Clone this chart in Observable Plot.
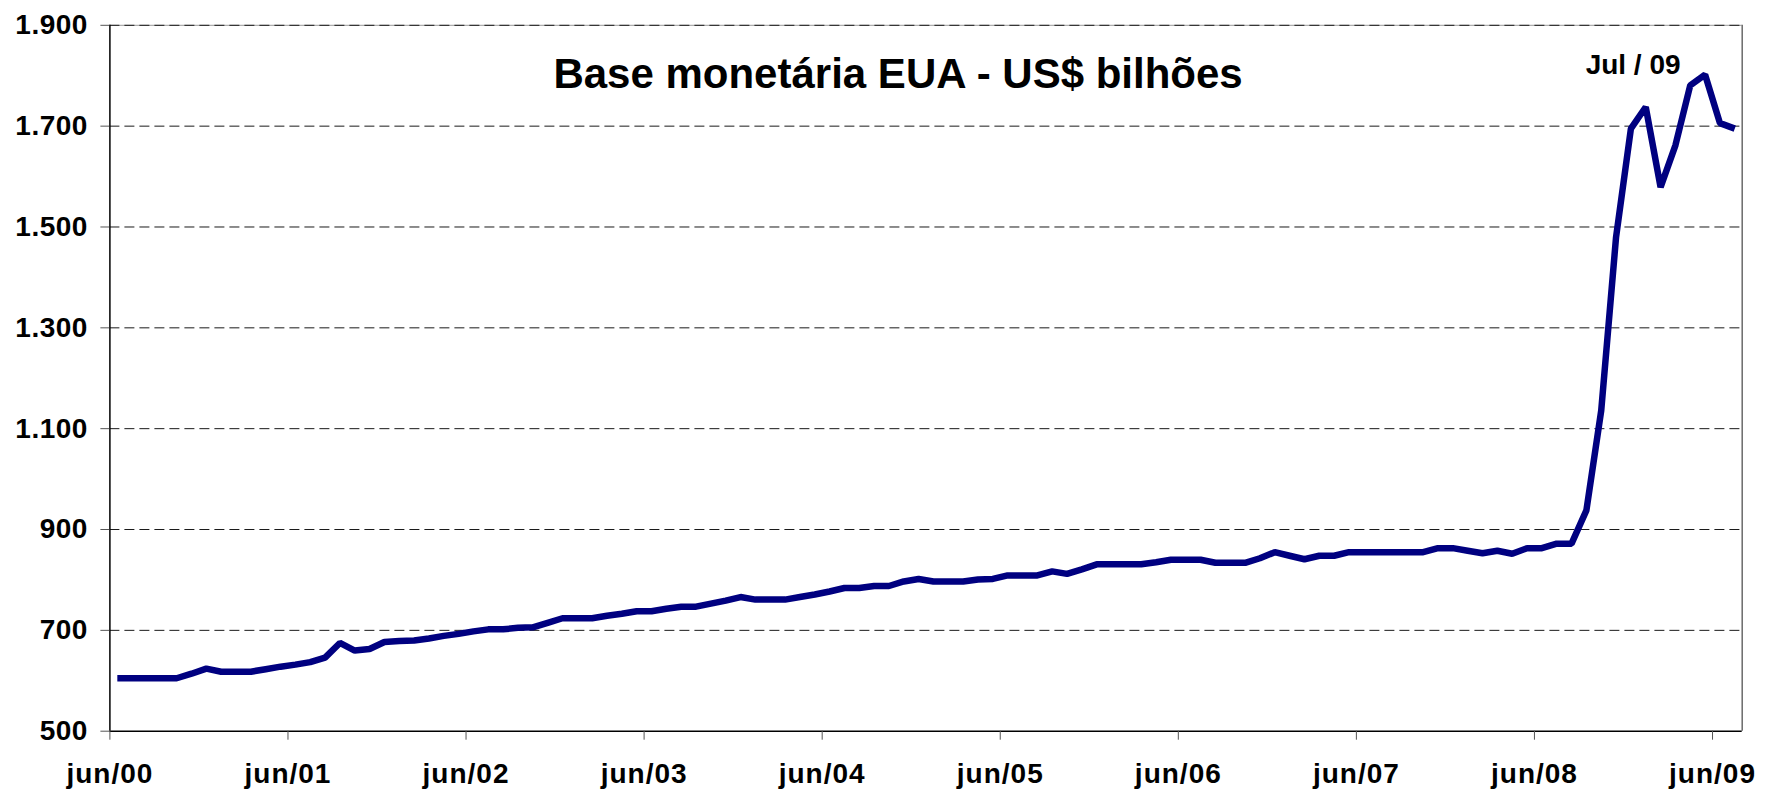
<!DOCTYPE html>
<html>
<head>
<meta charset="utf-8">
<script src="https://cdn.jsdelivr.net/npm/d3@7"></script>
<script src="https://cdn.jsdelivr.net/npm/@observablehq/plot@0.6"></script>
<style>
  html, body { margin: 0; padding: 0; background: #ffffff; }
  #chart svg { display: block; }
  g[aria-label="y-axis tick label"] text { letter-spacing: 0.5px; }
  g[aria-label="x-axis tick label"] text { letter-spacing: 1px; }
  g[aria-label="peak label"] text { letter-spacing: 0.6px; }
</style>
</head>
<body>
<div id="chart"></div>
<script>
// ---- data ----
const title = "Base monetária EUA - US$ bilhões";
const peakLabel = "Jul / 09";
const peakIndex = 107;

// x-axis labels, one every 12 months
const tickLabels = ["jun/00", "jun/01", "jun/02", "jun/03", "jun/04", "jun/05", "jun/06", "jun/07", "jun/08", "jun/09"];

// y-axis ticks
const yTicks = [500, 700, 900, 1100, 1300, 1500, 1700, 1900];

// monthly values, US$ billions
const values = [
  605, 605, 605, 605, 605, 614, 624, 618, 618, 618,
  623, 628, 632, 637, 646, 675, 660, 663, 677, 679,
  680, 684, 689, 693, 698, 702, 702, 705, 706, 715,
  724, 724, 724, 729, 733, 738, 738, 743, 747, 747,
  753, 759, 766, 761, 761, 761, 766, 771, 777, 784,
  784, 788, 788, 797, 802, 797, 797, 797, 801, 802,
  809, 809, 809, 817, 812, 821, 831, 831, 831, 831,
  835, 840, 840, 840, 834, 834, 834, 843, 855, 848,
  841, 848, 848, 855, 855, 855, 855, 855, 855, 863,
  863, 858, 853, 858, 852, 863, 863, 872, 872, 938,
  1136, 1480, 1695, 1738, 1579, 1662, 1781, 1802, 1706, 1695
];

// ---- build ----
const data = values.map((v, i) => ({i, v}));
const xDomain = [-0.5, values.length - 0.5];
const xTicks = tickLabels.map((_, k) => k * 12 - 0.5);
const fmtY = d => d3.format(",")(d).replace(/,/g, ".");

const chart = Plot.plot({
  width: 1768,
  height: 792,
  marginLeft: 109.4,
  marginRight: 26.3,
  marginTop: 24.8,
  marginBottom: 61.3,
  style: {
    fontFamily: "'Liberation Sans', Arial, Helvetica, sans-serif",
    fontWeight: "bold",
    background: "#ffffff",
    color: "#000000",
    overflow: "visible"
  },
  x: {domain: xDomain},
  y: {domain: [yTicks[0], yTicks[yTicks.length - 1]]},
  marks: [
    Plot.ruleY([yTicks[yTicks.length - 1]], {stroke: "#9a9a9a", strokeWidth: 1}),
    Plot.ruleY(yTicks.slice(1), {stroke: "#1a1a1a", strokeWidth: 1, strokeDasharray: "10,5"}),
    Plot.ruleX([xDomain[1]], {stroke: "#6a6a6a", strokeWidth: 1.5}),
    Plot.ruleX([xDomain[0]], {stroke: "#000000", strokeWidth: 1.5}),
    Plot.ruleY([yTicks[0]], {stroke: "#000000", strokeWidth: 1.5}),
    Plot.axisY({
      ticks: yTicks,
      tickSize: 9,
      tickPadding: 13,
      tickFormat: fmtY,
      fontSize: 28,
      stroke: "#555555",
      fill: "#000000",
      label: null
    }),
    Plot.axisX({
      ticks: xTicks,
      tickSize: 9,
      tickPadding: 23,
      tickFormat: d => tickLabels[Math.round((d + 0.5) / 12)],
      fontSize: 28,
      stroke: "#555555",
      fill: "#000000",
      label: null
    }),
    Plot.line(data, {
      x: "i",
      y: "v",
      stroke: "#000080",
      strokeWidth: 6.5,
      strokeLinejoin: "miter",
      strokeLinecap: "butt"
    }),
    Plot.text([title], {
      frameAnchor: "top",
      lineAnchor: "bottom",
      dx: -28,
      dy: 63,
      fontSize: 42,
      fontWeight: "bold",
      fill: "#000000"
    }),
    Plot.text([data[peakIndex]], {
      x: "i",
      y: "v",
      text: () => peakLabel,
      lineAnchor: "bottom",
      dx: -72,
      dy: -1,
      fontSize: 28,
      fontWeight: "bold",
      fill: "#000000",
      ariaLabel: "peak label"
    })
  ]
});

document.getElementById("chart").appendChild(chart);
</script>
</body>
</html>
